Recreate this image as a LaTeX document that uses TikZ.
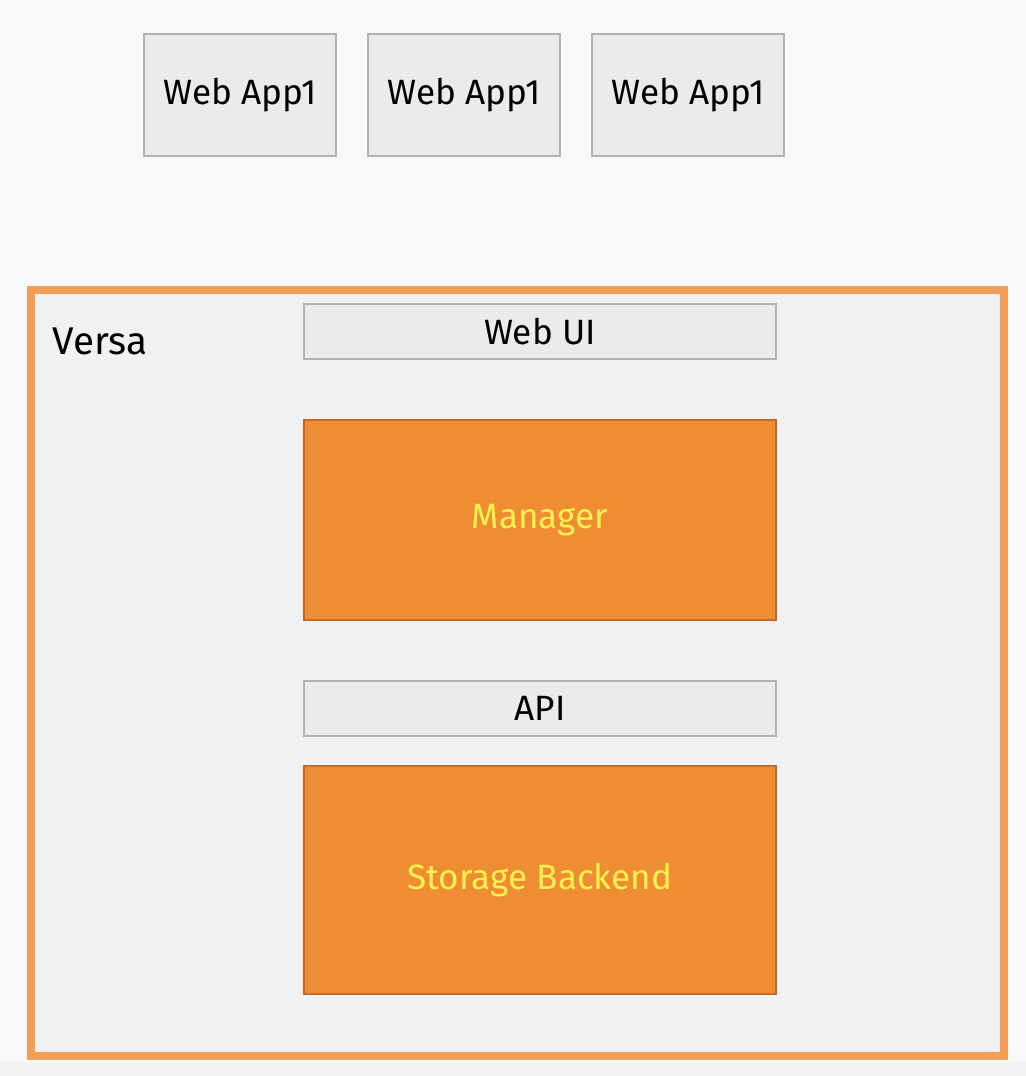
\documentclass[tikz,border=0pt]{standalone}
\usepackage{fontspec}
\setmainfont{Fira Sans}
\usepackage{tikz}

\definecolor{pagebg}{HTML}{F8F9FA}
\definecolor{boxfill}{HTML}{EAEBED}
\definecolor{boxline}{HTML}{B2B2B2}
\definecolor{versafill}{HTML}{F0F1F3}
\definecolor{versaline}{HTML}{F29E56}
\definecolor{orangefill}{HTML}{EF8D34}
\definecolor{orangeline}{HTML}{C26A22}
\definecolor{labelyellow}{HTML}{FFF24E}

\begin{document}
\begin{tikzpicture}[
    x=0.02cm, y=-0.02cm,
    app/.style={draw=boxline, fill=boxfill, line width=0.04cm, minimum width=3.84cm, minimum height=2.44cm, inner sep=0pt, font=\fontsize{20}{24}\selectfont},
    bar/.style={draw=boxline, fill=boxfill, line width=0.04cm, minimum width=9.44cm, minimum height=1.1cm, inner sep=0pt, font=\fontsize{20}{24}\selectfont},
    comp/.style={draw=orangeline, fill=orangefill, line width=0.04cm, minimum width=9.44cm, inner sep=0pt, text=labelyellow, font=\fontsize{20}{24}\selectfont}
]
\useasboundingbox (0,0) rectangle (1026,1076);
\fill[pagebg] (0,0) rectangle (1026,1076);
\fill[gray!10] (0,1062) rectangle (1026,1076);
\node[draw=versaline, fill=versafill, line width=0.16cm, minimum width=19.46cm, minimum height=15.32cm, inner sep=0pt] (versa) at (517.5,673) {};
\node[font=\fontsize{22}{26}\selectfont] (versalbl) at (100,341) {Versa};
\node[app] (app1) at (240,95) {Web App1};
\node[app] (app2) at (464,95) {Web App1};
\node[app] (app3) at (688,95) {Web App1};
\node[bar] (webui) at (540,331.5) {Web UI};
\node[comp, minimum height=4.0cm] (mgr) at (540,520) {Manager};
\node[bar] (api) at (540,708) {API};
\node[comp, minimum height=4.56cm] (store) at (540,880) {Storage Backend};
\end{tikzpicture}
\end{document}
